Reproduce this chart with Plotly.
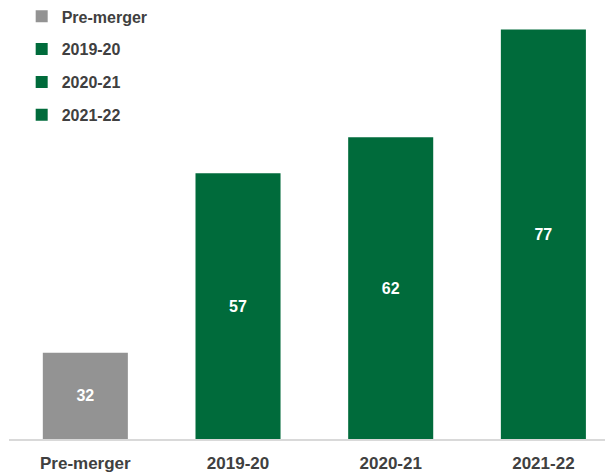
import plotly.graph_objects as go

categories = ["Pre-merger", "2019-20", "2020-21", "2021-22"]
values = [32, 57, 62, 77]
colors = ["#939393", "#006b3b", "#006b3b", "#006b3b"]
axis_min = 20
axis_max = 80

FONT = "Liberation Sans, Arial, sans-serif"
TXT = "#404040"

fig = go.Figure()
for cat, val, col in zip(categories, values, colors):
    fig.add_trace(go.Bar(
        x=[cat], y=[val - axis_min], base=axis_min,
        name=cat, legendgroup=cat,
        marker=dict(color=col, line=dict(width=0)),
        width=0.557,
        text=[str(val)], textposition="inside", insidetextanchor="middle",
        textfont=dict(family=FONT, size=16, color="white", weight="bold"),
        textangle=0,
        hovertemplate=cat + ": %{text}<extra></extra>",
    ))

fig.update_layout(
    width=605, height=468,
    margin=dict(l=1, r=0, t=0, b=37, autoexpand=False),
    paper_bgcolor="white", plot_bgcolor="white",
    barmode="overlay",
    showlegend=True,
    legend=dict(
        x=0.021, y=1.02, xanchor="left", yanchor="top",
        bgcolor="rgba(0,0,0,0)",
        font=dict(family=FONT, size=16, color=TXT, weight="bold"),
        traceorder="grouped", tracegroupgap=9,
        itemclick=False, itemdoubleclick=False,
    ),
    font=dict(family=FONT, color=TXT),
)
fig.update_xaxes(
    type="category", categoryorder="array", categoryarray=categories,
    range=[-0.5, 3.456],
    showline=True, linecolor="#d9d9d9", linewidth=2,
    showgrid=False, zeroline=False, ticks="",
    tickfont=dict(family=FONT, size=17, color=TXT, weight="bold"),
    ticklabelstandoff=8,
)
fig.update_yaxes(
    range=[axis_min, axis_max], visible=False,
    showgrid=False, zeroline=False,
)

fig.write_html("out.html")
